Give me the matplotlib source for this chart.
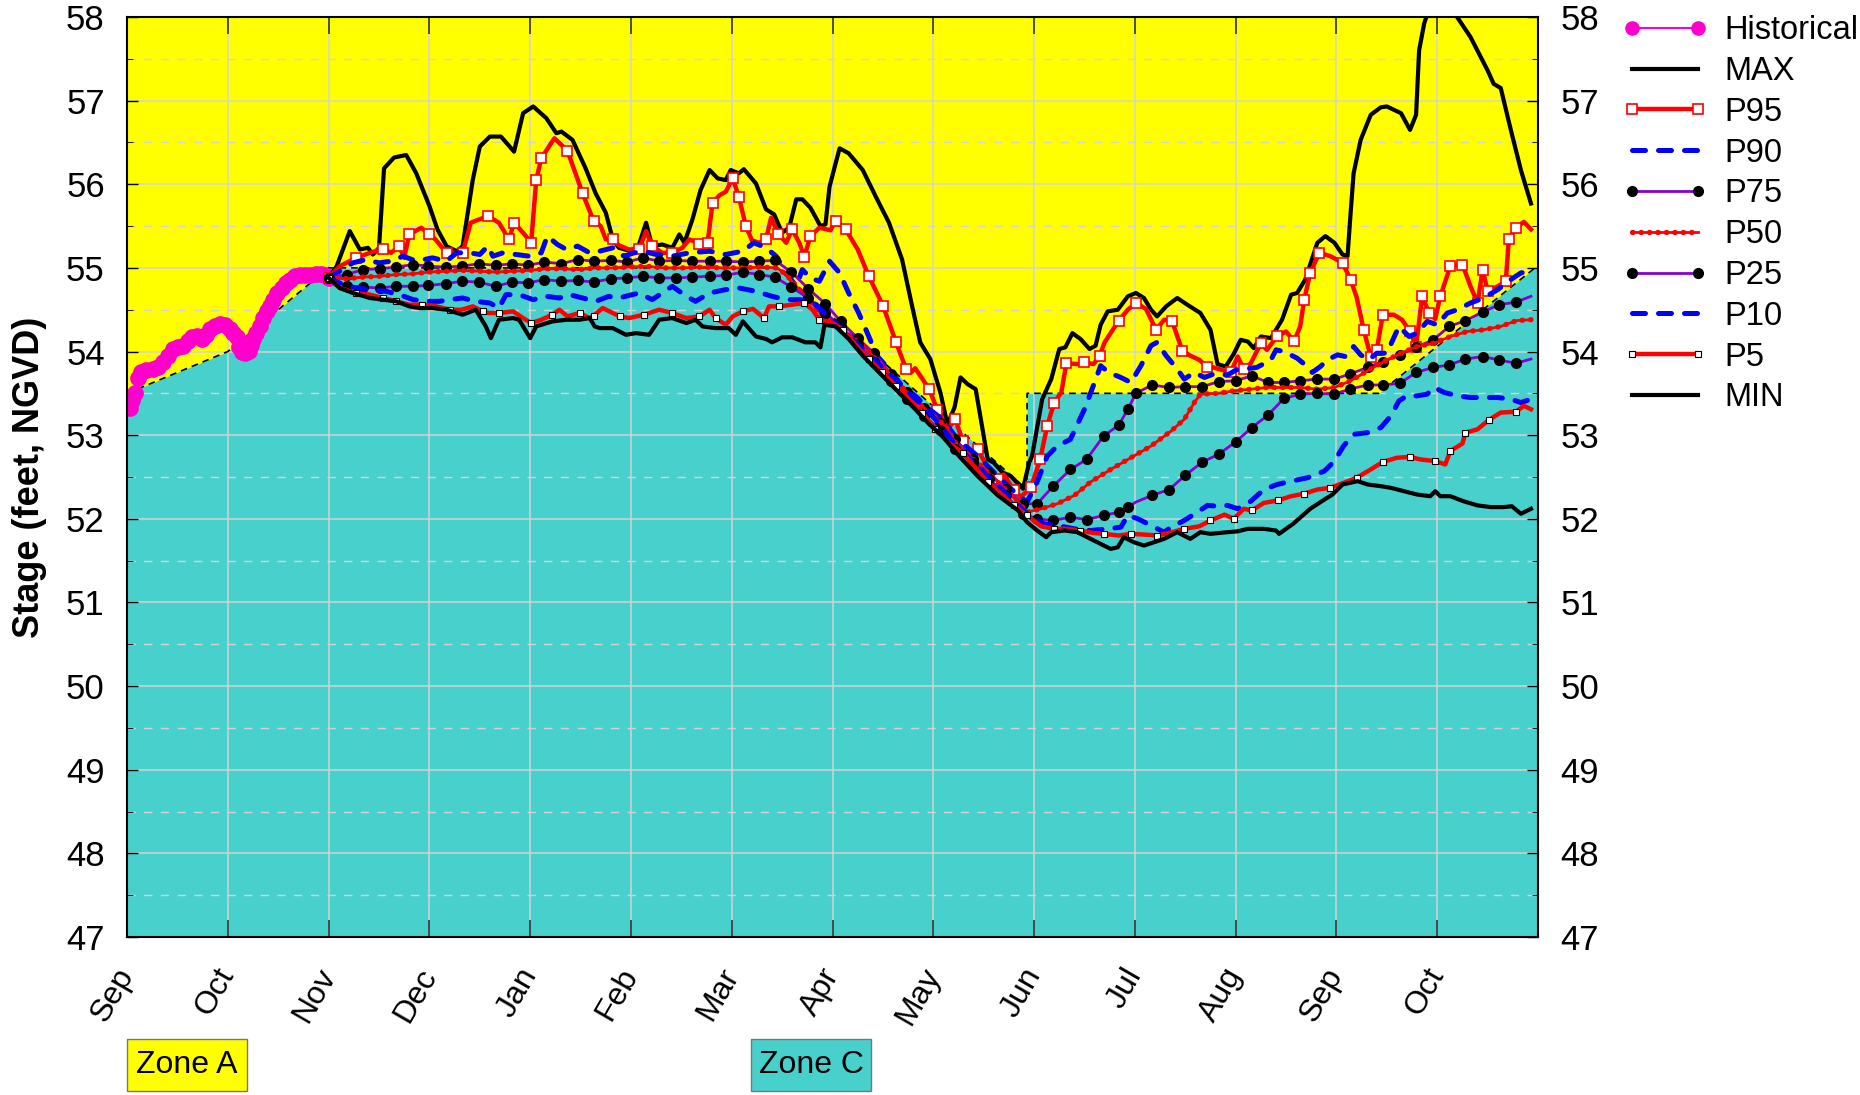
import matplotlib
matplotlib.use("Agg")
import matplotlib.pyplot as plt
from matplotlib.lines import Line2D
from matplotlib.patches import Rectangle
from matplotlib.ticker import MultipleLocator
from matplotlib.legend_handler import HandlerTuple

plt.rcParams["font.family"] = ["Liberation Sans", "DejaVu Sans"]

# x is in months counted from 1 Sep (0 = Sep, 14 = end of the following Oct)
months = ["Sep", "Oct", "Nov", "Dec", "Jan", "Feb", "Mar", "Apr", "May",
          "Jun", "Jul", "Aug", "Sep", "Oct"]

# zone A / zone C boundary
zone_x = [0.0, 1.0, 1.85, 2.0, 2.0, 6.45, 8.93, 8.93, 12.42, 14.0]
zone_y = [53.5, 54.0, 54.85, 54.88, 55.0, 55.0, 52.35, 53.5, 53.5, 55.03]

hist_x = [0.0, 0.03, 0.05, 0.08, 0.11, 0.14, 0.19, 0.26, 0.31, 0.36, 0.41, 0.46, 0.51, 0.56,
          0.6, 0.64, 0.69, 0.74, 0.78, 0.82, 0.87, 0.92, 0.97, 1.02, 1.05, 1.09, 1.11, 1.14,
          1.17, 1.21, 1.23, 1.25, 1.28, 1.32, 1.35, 1.39, 1.42, 1.45, 1.49, 1.54, 1.58, 1.62,
          1.67, 1.72, 1.77, 1.82, 1.87, 1.92, 1.96, 2.0]
hist_y = [53.35, 53.33, 53.42, 53.51, 53.68, 53.75, 53.78, 53.79, 53.82, 53.87, 53.95, 54.03,
          54.06, 54.07, 54.12, 54.17, 54.18, 54.15, 54.2, 54.27, 54.31, 54.33, 54.32, 54.27,
          54.22, 54.17, 54.05, 53.99, 53.98, 54.01, 54.08, 54.15, 54.22, 54.31, 54.4, 54.48,
          54.55, 54.62, 54.7, 54.76, 54.82, 54.86, 54.9, 54.92, 54.92, 54.92, 54.93, 54.93,
          54.92, 54.88]

max_x = [2.0, 2.08, 2.21, 2.31, 2.39, 2.44, 2.5, 2.55, 2.65, 2.77, 2.87, 3.0, 3.08, 3.17, 3.27,
         3.33, 3.43, 3.5, 3.6, 3.71, 3.84, 3.93, 4.03, 4.16, 4.26, 4.31, 4.42, 4.55, 4.65, 4.75,
         4.82, 4.88, 5.0, 5.08, 5.15, 5.21, 5.31, 5.41, 5.48, 5.53, 5.61, 5.69, 5.78, 5.86, 5.94,
         5.99, 6.07, 6.12, 6.24, 6.34, 6.42, 6.5, 6.57, 6.64, 6.7, 6.78, 6.88, 6.93, 6.97, 7.07,
         7.16, 7.3, 7.43, 7.56, 7.69, 7.79, 7.87, 7.97, 8.07, 8.14, 8.21, 8.27, 8.34, 8.42, 8.54,
         8.6, 8.69, 8.77, 8.84, 8.89, 8.95, 8.98, 9.08, 9.17, 9.25, 9.31, 9.38, 9.46, 9.55, 9.61,
         9.66, 9.73, 9.83, 9.93, 10.01, 10.09, 10.16, 10.22, 10.31, 10.42, 10.52, 10.65, 10.75,
         10.82, 10.9, 10.98, 11.05, 11.12, 11.18, 11.25, 11.35, 11.46, 11.55, 11.61, 11.69, 11.81,
         11.89, 11.98, 12.06, 12.11, 12.14, 12.17, 12.24, 12.34, 12.44, 12.5, 12.64, 12.73, 12.79,
         12.82, 12.87, 12.9, 13.03, 13.18, 13.33, 13.5, 13.56, 13.63, 13.73, 13.83, 13.93]
max_y = [54.88, 55.02, 55.44, 55.22, 55.24, 55.16, 55.24, 56.19, 56.32, 56.35, 56.13, 55.74, 55.46,
         55.26, 55.2, 55.26, 56.05, 56.45, 56.57, 56.57, 56.39, 56.85, 56.93, 56.79, 56.61, 56.63,
         56.53, 56.19, 55.89, 55.66, 55.34, 55.24, 55.2, 55.28, 55.54, 55.26, 55.28, 55.24, 55.4,
         55.3, 55.58, 55.93, 56.17, 56.07, 56.05, 56.17, 56.13, 56.18, 56.01, 55.7, 55.64, 55.42,
         55.48, 55.82, 55.82, 55.72, 55.5, 55.52, 55.97, 56.43, 56.37, 56.17, 55.85, 55.54, 55.1,
         54.54, 54.11, 53.91, 53.51, 53.13, 53.33, 53.69, 53.61, 53.55, 52.71, 52.67, 52.55, 52.51,
         52.42, 52.36, 52.67, 52.75, 53.43, 53.67, 54.03, 54.05, 54.22, 54.15, 54.03, 54.07, 54.32,
         54.48, 54.5, 54.66, 54.7, 54.64, 54.5, 54.42, 54.54, 54.64, 54.56, 54.46, 54.26, 53.85,
         53.82, 53.97, 54.14, 54.12, 54.04, 54.18, 54.16, 54.38, 54.68, 54.7, 54.86, 55.3, 55.38,
         55.3, 55.16, 55.14, 55.65, 56.13, 56.53, 56.83, 56.92, 56.93, 56.85, 56.65, 56.83, 57.6,
         57.92, 58.03, 58.3, 58.03, 57.76, 57.36, 57.2, 57.15, 56.65, 56.17, 55.77]

p95_x = [2.0, 2.11, 2.27, 2.41, 2.54, 2.62, 2.7, 2.75, 2.8, 2.92, 3.0, 3.06, 3.17, 3.25, 3.33,
         3.41, 3.58, 3.69, 3.79, 3.84, 3.93, 4.01, 4.06, 4.11, 4.24, 4.37, 4.52, 4.63, 4.7, 4.75,
         4.82, 4.88, 4.98, 5.08, 5.15, 5.21, 5.31, 5.41, 5.51, 5.58, 5.68, 5.76, 5.81, 5.88, 5.94,
         6.01, 6.07, 6.14, 6.2, 6.27, 6.34, 6.39, 6.46, 6.54, 6.6, 6.67, 6.72, 6.78, 6.87, 6.98,
         7.03, 7.13, 7.25, 7.36, 7.5, 7.63, 7.73, 7.78, 7.82, 7.96, 8.04, 8.14, 8.22, 8.29, 8.37,
         8.44, 8.54, 8.64, 8.7, 8.8, 8.87, 8.97, 9.06, 9.13, 9.2, 9.27, 9.32, 9.43, 9.5, 9.59,
         9.65, 9.7, 9.84, 9.93, 10.01, 10.11, 10.21, 10.29, 10.37, 10.47, 10.55, 10.64, 10.72,
         10.78, 10.89, 10.95, 11.02, 11.08, 11.15, 11.25, 11.31, 11.41, 11.5, 11.58, 11.64, 11.68,
         11.74, 11.83, 11.94, 12.06, 12.14, 12.2, 12.27, 12.34, 12.4, 12.46, 12.57, 12.65, 12.73,
         12.79, 12.85, 12.92, 12.98, 13.03, 13.13, 13.25, 13.33, 13.4, 13.45, 13.5, 13.6, 13.68,
         13.71, 13.78, 13.86, 13.93]
p95_y = [54.88, 55.02, 55.12, 55.18, 55.23, 55.18, 55.26, 55.12, 55.4, 55.48, 55.4, 55.34, 55.18,
         55.18, 55.18, 55.54, 55.62, 55.54, 55.34, 55.54, 55.42, 55.3, 56.05, 56.31, 56.55, 56.4,
         55.89, 55.56, 55.5, 55.34, 55.34, 55.27, 55.22, 55.22, 55.44, 55.26, 55.18, 55.18, 55.24,
         55.34, 55.29, 55.3, 55.78, 55.87, 55.91, 56.07, 55.85, 55.5, 55.33, 55.3, 55.34, 55.6,
         55.41, 55.3, 55.46, 55.3, 55.13, 55.38, 55.48, 55.45, 55.56, 55.46, 55.22, 54.9, 54.55,
         54.11, 53.79, 53.75, 53.8, 53.55, 53.3, 53.07, 53.19, 52.93, 52.75, 52.83, 52.61, 52.48,
         52.53, 52.34, 52.26, 52.38, 52.71, 53.11, 53.39, 53.51, 53.86, 53.85, 53.87, 53.85, 53.95,
         54.11, 54.37, 54.5, 54.58, 54.51, 54.26, 54.38, 54.36, 54.01, 53.95, 53.9, 53.81, 53.81,
         53.77, 53.75, 53.94, 53.79, 53.86, 54.1, 54.02, 54.18, 54.24, 54.12, 54.3, 54.62, 54.94,
         55.18, 55.14, 55.06, 54.86, 54.65, 54.26, 53.94, 54.02, 54.44, 54.44, 54.38, 54.24, 54.06,
         54.66, 54.46, 54.39, 54.66, 55.02, 55.04, 54.78, 54.58, 54.98, 54.72, 54.78, 54.84, 55.34,
         55.48, 55.55, 55.46]

p90_x = [2.0, 2.11, 2.24, 2.37, 2.5, 2.62, 2.74, 2.87, 3.03, 3.17, 3.27, 3.4, 3.5, 3.58, 3.63,
         3.73, 3.86, 3.99, 4.11, 4.17, 4.27, 4.36, 4.47, 4.59, 4.69, 4.82, 4.93, 5.03, 5.12, 5.25,
         5.41, 5.58, 5.78, 5.94, 6.11, 6.22, 6.34, 6.44, 6.54, 6.64, 6.7, 6.78, 6.87, 6.97, 7.07,
         7.16, 7.26, 7.36, 7.44, 7.56, 7.69, 7.82, 7.96, 8.09, 8.24, 8.44, 8.64, 8.84, 8.93, 9.03,
         9.13, 9.23, 9.36, 9.5, 9.6, 9.66, 9.74, 9.86, 9.96, 10.06, 10.16, 10.22, 10.31, 10.42,
         10.49, 10.59, 10.69, 10.78, 10.92, 11.02, 11.08, 11.21, 11.35, 11.4, 11.48, 11.61, 11.71,
         11.76, 11.84, 11.91, 12.01, 12.09, 12.17, 12.24, 12.32, 12.4, 12.5, 12.62, 12.72, 12.8,
         12.9, 13.0, 13.1, 13.2, 13.33, 13.46, 13.6, 13.73, 13.83, 13.93]
p90_y = [54.88, 54.96, 55.06, 55.1, 55.06, 55.08, 55.14, 55.08, 55.12, 55.08, 55.18, 55.18, 55.16,
         55.26, 55.14, 55.18, 55.16, 55.14, 55.18, 55.38, 55.28, 55.22, 55.26, 55.18, 55.2, 55.24,
         55.14, 55.18, 55.2, 55.16, 55.14, 55.18, 55.2, 55.16, 55.2, 55.3, 55.24, 55.14, 54.94,
         54.78, 54.98, 54.88, 54.84, 55.08, 54.94, 54.7, 54.46, 54.18, 53.95, 53.79, 53.59, 53.47,
         53.31, 53.19, 52.95, 52.75, 52.51, 52.28, 52.2, 52.44, 52.75, 52.87, 52.95, 53.31, 53.63,
         53.83, 53.75, 53.69, 53.63, 53.83, 54.07, 54.11, 53.95, 53.79, 53.67, 53.75, 53.69, 53.73,
         53.72, 53.79, 53.79, 53.81, 53.9, 54.02, 54.0, 53.92, 53.82, 53.75, 53.82, 53.9, 53.96,
         53.94, 54.06, 53.96, 53.9, 53.98, 53.98, 54.3, 54.18, 54.22, 54.36, 54.32, 54.46, 54.5,
         54.58, 54.64, 54.74, 54.86, 54.94, 54.96]

p75_x = [2.0, 2.18, 2.34, 2.51, 2.67, 2.84, 2.99, 3.16, 3.32, 3.49, 3.66, 3.82, 3.98, 4.14, 4.31,
         4.47, 4.63, 4.8, 4.96, 5.12, 5.28, 5.45, 5.61, 5.78, 5.94, 6.11, 6.27, 6.43, 6.59, 6.76,
         6.93, 7.08, 7.25, 7.41, 7.58, 7.74, 7.91, 8.07, 8.22, 8.39, 8.55, 8.72, 8.89, 9.03, 9.19,
         9.36, 9.52, 9.69, 9.84, 9.93, 10.01, 10.17, 10.34, 10.5, 10.67, 10.83, 11.0, 11.16, 11.32,
         11.48, 11.64, 11.81, 11.98, 12.13, 12.31, 12.46, 12.63, 12.79, 12.96, 13.12, 13.28, 13.45,
         13.61, 13.78, 13.93]
p75_y = [54.88, 54.92, 54.98, 54.99, 55.01, 55.04, 55.02, 55.01, 55.02, 55.05, 55.03, 55.05, 55.03,
         55.07, 55.05, 55.1, 55.08, 55.09, 55.07, 55.12, 55.08, 55.09, 55.08, 55.08, 55.08, 55.07,
         55.08, 55.09, 54.95, 54.75, 54.57, 54.36, 54.16, 53.98, 53.73, 53.52, 53.33, 53.15, 52.95,
         52.72, 52.55, 52.36, 52.18, 52.18, 52.39, 52.59, 52.71, 52.99, 53.12, 53.31, 53.5, 53.6,
         53.57, 53.58, 53.58, 53.64, 53.65, 53.71, 53.63, 53.63, 53.65, 53.67, 53.67, 53.73, 53.81,
         53.88, 53.96, 54.05, 54.14, 54.3, 54.37, 54.47, 54.56, 54.59, 54.66]

p50_x = [2.0, 2.18, 2.34, 2.51, 2.67, 2.84, 3.0, 3.17, 3.33, 3.5, 3.66, 3.83, 3.99, 4.16, 4.32,
         4.49, 4.65, 4.82, 4.98, 5.15, 5.31, 5.51, 5.71, 5.91, 6.11, 6.3, 6.45, 6.54, 6.64, 6.77,
         6.9, 7.03, 7.16, 7.3, 7.46, 7.63, 7.79, 7.96, 8.12, 8.24, 8.44, 8.64, 8.84, 8.93, 9.07,
         9.23, 9.4, 9.56, 9.76, 9.96, 10.16, 10.36, 10.49, 10.59, 10.65, 10.82, 10.98, 11.15, 11.31,
         11.48, 11.64, 11.81, 11.98, 12.14, 12.31, 12.47, 12.64, 12.8, 12.97, 13.13, 13.3, 13.46,
         13.63, 13.79, 13.93]
p50_y = [54.88, 54.87, 54.89, 54.9, 54.92, 54.93, 54.95, 54.96, 54.97, 54.96, 54.95, 54.96, 54.97,
         54.99, 54.99, 54.98, 55.0, 55.0, 55.01, 55.02, 55.0, 55.0, 55.01, 55.0, 55.0, 55.01, 55.0,
         54.92, 54.78, 54.62, 54.42, 54.34, 54.2, 54.07, 53.87, 53.65, 53.45, 53.27, 53.11, 52.87,
         52.67, 52.44, 52.2, 52.08, 52.12, 52.18, 52.28, 52.44, 52.59, 52.73, 52.87, 53.05, 53.19,
         53.39, 53.49, 53.5, 53.53, 53.55, 53.57, 53.57, 53.57, 53.55, 53.57, 53.65, 53.77, 53.88,
         53.98, 54.06, 54.1, 54.18, 54.24, 54.26, 54.3, 54.37, 54.38]

p25_x = p75_x
p25_y = [54.88, 54.78, 54.77, 54.76, 54.78, 54.78, 54.79, 54.81, 54.84, 54.83, 54.78, 54.83, 54.82,
         54.86, 54.84, 54.85, 54.83, 54.87, 54.88, 54.9, 54.88, 54.88, 54.89, 54.9, 54.91, 54.95,
         54.92, 54.89, 54.77, 54.64, 54.46, 54.3, 54.09, 53.87, 53.65, 53.43, 53.23, 53.06, 52.83,
         52.67, 52.48, 52.28, 52.06, 52.0, 51.98, 52.02, 51.99, 52.04, 52.08, 52.14, 52.2, 52.28,
         52.35, 52.52, 52.68, 52.77, 52.92, 53.09, 53.24, 53.44, 53.49, 53.5, 53.49, 53.55, 53.6,
         53.6, 53.62, 53.75, 53.81, 53.84, 53.91, 53.94, 53.9, 53.86, 53.91]

p10_x = [2.0, 2.11, 2.27, 2.41, 2.57, 2.7, 2.84, 2.97, 3.1, 3.2, 3.33, 3.46, 3.6, 3.69, 3.76,
         3.89, 4.03, 4.16, 4.29, 4.39, 4.52, 4.65, 4.78, 4.88, 4.98, 5.08, 5.21, 5.31, 5.41, 5.55,
         5.64, 5.78, 5.94, 6.07, 6.24, 6.4, 6.54, 6.67, 6.8, 6.9, 7.03, 7.16, 7.3, 7.46, 7.63,
         7.79, 7.96, 8.09, 8.24, 8.44, 8.64, 8.84, 8.97, 9.1, 9.23, 9.4, 9.56, 9.73, 9.86, 9.93,
         10.03, 10.16, 10.29, 10.36, 10.49, 10.62, 10.72, 10.82, 10.92, 11.02, 11.15, 11.28, 11.41,
         11.55, 11.71, 11.88, 11.98, 12.07, 12.17, 12.31, 12.44, 12.54, 12.62, 12.7, 12.8, 12.9,
         12.97, 13.07, 13.2, 13.33, 13.46, 13.6, 13.73, 13.83, 13.93]
p10_y = [54.88, 54.82, 54.76, 54.74, 54.72, 54.68, 54.62, 54.6, 54.6, 54.62, 54.64, 54.6, 54.58,
         54.52, 54.68, 54.68, 54.62, 54.66, 54.64, 54.68, 54.64, 54.6, 54.66, 54.64, 54.67, 54.7,
         54.62, 54.7, 54.78, 54.66, 54.6, 54.7, 54.74, 54.76, 54.72, 54.66, 54.62, 54.62, 54.6,
         54.48, 54.34, 54.18, 54.03, 53.85, 53.65, 53.47, 53.27, 53.09, 52.85, 52.63, 52.4, 52.16,
         52.02, 51.94, 51.92, 51.88, 51.86, 51.88, 51.9, 52.04, 52.0, 51.92, 51.84, 51.9, 51.98,
         52.08, 52.16, 52.15, 52.16, 52.12, 52.21, 52.35, 52.41, 52.45, 52.49, 52.57, 52.69, 52.87,
         53.01, 53.03, 53.09, 53.23, 53.41, 53.47, 53.47, 53.49, 53.57, 53.51, 53.47, 53.45, 53.45,
         53.45, 53.43, 53.39, 53.43]

p5_x = [2.0, 2.11, 2.27, 2.41, 2.54, 2.67, 2.8, 2.93, 3.07, 3.2, 3.32, 3.43, 3.53, 3.59, 3.69,
        3.83, 3.93, 4.01, 4.11, 4.22, 4.29, 4.37, 4.49, 4.59, 4.63, 4.72, 4.82, 4.89, 4.98, 5.13,
        5.28, 5.41, 5.55, 5.68, 5.78, 5.84, 5.94, 6.01, 6.11, 6.21, 6.32, 6.37, 6.47, 6.6, 6.72,
        6.8, 6.87, 6.99, 7.1, 7.25, 7.36, 7.49, 7.63, 7.76, 7.89, 8.02, 8.15, 8.29, 8.54, 8.8,
        8.93, 9.07, 9.2, 9.32, 9.46, 9.59, 9.69, 9.84, 9.96, 10.11, 10.22, 10.37, 10.49, 10.64,
        10.75, 10.89, 10.98, 11.08, 11.16, 11.28, 11.42, 11.55, 11.68, 11.81, 11.94, 12.07, 12.2,
        12.34, 12.46, 12.6, 12.73, 12.83, 12.98, 13.08, 13.13, 13.25, 13.28, 13.4, 13.51, 13.63,
        13.78, 13.86, 13.93]
p5_y = [54.88, 54.76, 54.7, 54.68, 54.64, 54.6, 54.56, 54.56, 54.54, 54.5, 54.5, 54.54, 54.48,
        54.46, 54.46, 54.48, 54.4, 54.34, 54.38, 54.44, 54.5, 54.42, 54.46, 54.4, 54.43, 54.52,
        54.46, 54.42, 54.4, 54.44, 54.5, 54.46, 54.4, 54.42, 54.5, 54.4, 54.32, 54.42, 54.48, 54.51,
        54.4, 54.54, 54.54, 54.56, 54.58, 54.5, 54.38, 54.35, 54.26, 54.05, 53.91, 53.75, 53.59,
        53.43, 53.27, 53.07, 52.91, 52.79, 52.44, 52.16, 52.04, 51.91, 51.88, 51.88, 51.86, 51.83,
        51.82, 51.8, 51.82, 51.81, 51.8, 51.84, 51.88, 51.91, 51.98, 52.05, 52.0, 52.12, 52.1,
        52.19, 52.22, 52.27, 52.3, 52.35, 52.37, 52.43, 52.49, 52.59, 52.68, 52.73, 52.74, 52.71,
        52.69, 52.65, 52.81, 52.9, 53.03, 53.07, 53.18, 53.27, 53.28, 53.35, 53.31]

min_x = [2.0, 2.11, 2.24, 2.41, 2.54, 2.67, 2.8, 2.9, 3.03, 3.17, 3.33, 3.46, 3.56, 3.61, 3.69,
         3.83, 3.89, 4.0, 4.06, 4.22, 4.36, 4.49, 4.59, 4.64, 4.69, 4.82, 4.95, 5.05, 5.18, 5.28,
         5.41, 5.55, 5.64, 5.71, 5.84, 5.97, 6.04, 6.11, 6.24, 6.34, 6.4, 6.5, 6.6, 6.73, 6.83,
         6.88, 6.92, 7.03, 7.16, 7.3, 7.43, 7.56, 7.69, 7.82, 7.96, 8.09, 8.24, 8.44, 8.64, 8.84,
         8.93, 9.03, 9.12, 9.17, 9.3, 9.43, 9.56, 9.66, 9.76, 9.83, 9.89, 9.99, 10.09, 10.19, 10.29,
         10.42, 10.55, 10.65, 10.75, 10.92, 11.02, 11.12, 11.28, 11.4, 11.43, 11.57, 11.74, 11.88,
         11.96, 12.06, 12.21, 12.31, 12.44, 12.54, 12.67, 12.8, 12.93, 12.98, 13.03, 13.13, 13.26,
         13.4, 13.53, 13.66, 13.74, 13.83, 13.93]
min_y = [54.88, 54.76, 54.7, 54.64, 54.62, 54.6, 54.54, 54.52, 54.52, 54.5, 54.44, 54.5, 54.3,
         54.16, 54.38, 54.4, 54.38, 54.16, 54.3, 54.36, 54.38, 54.38, 54.4, 54.3, 54.28, 54.28,
         54.2, 54.22, 54.2, 54.38, 54.4, 54.34, 54.38, 54.3, 54.28, 54.28, 54.2, 54.36, 54.18,
         54.15, 54.11, 54.17, 54.17, 54.11, 54.11, 54.05, 54.32, 54.3, 54.15, 53.95, 53.79, 53.63,
         53.47, 53.31, 53.13, 52.99, 52.77, 52.51, 52.28, 52.1, 51.96, 51.86, 51.78, 51.84, 51.86,
         51.84, 51.76, 51.7, 51.64, 51.66, 51.78, 51.72, 51.68, 51.72, 51.76, 51.84, 51.76, 51.84,
         51.82, 51.84, 51.85, 51.88, 51.88, 51.86, 51.82, 51.94, 52.12, 52.23, 52.29, 52.41, 52.45,
         52.41, 52.39, 52.37, 52.33, 52.29, 52.27, 52.33, 52.27, 52.27, 52.21, 52.16, 52.14, 52.14,
         52.15, 52.06, 52.12]

YELLOW = "#FFFF00"
TEAL = "#48D1CC"
MAGENTA = "#FF00CC"
PURPLE = "#8800CC"
DASH = (0, (2.6, 2.6))
DOTS = (0, (0.1, 1.5))

fig = plt.figure(figsize=(18.6, 10.95), dpi=100)
ax = fig.add_axes([0.0683, 0.1443, 0.7586, 0.8402])
ax.set_facecolor(YELLOW)

ax.fill_between(zone_x, zone_y, 47, color=TEAL, lw=0, zorder=1)
ax.plot(zone_x, zone_y, color="black", lw=1.2, ls=(0, (4, 3)), zorder=1.8)

ax.plot(hist_x, hist_y, color=MAGENTA, lw=1.5, marker="o", ms=11, mec=MAGENTA, zorder=2)
ax.plot(max_x, max_y, color="black", lw=3, zorder=2.1)
ax.plot(p95_x, p95_y, color="red", lw=3.2, marker="s", ms=7, mfc="white", mec="red",
        mew=1.2, markevery=0.017, zorder=2.2)
ax.plot(p90_x, p90_y, color="blue", lw=3.6, ls=DASH, dash_capstyle="round", zorder=2.3)
ax.plot(p75_x, p75_y, color=PURPLE, lw=2, marker="o", ms=7, mfc="black", mec="black",
        markevery=0.0098, zorder=2.4)
ax.plot(p50_x, p50_y, color="red", lw=2, zorder=2.5)
ax.plot(p50_x, p50_y, color="red", lw=3.8, ls=DOTS, dash_capstyle="round", zorder=2.5)
ax.plot(p25_x, p25_y, color=PURPLE, lw=2, marker="o", ms=7, mfc="black", mec="black",
        markevery=0.0098, zorder=2.6)
ax.plot(p10_x, p10_y, color="blue", lw=3.6, ls=DASH, dash_capstyle="round", zorder=2.7)
ax.plot(p5_x, p5_y, color="red", lw=3.2, marker="s", ms=4, mfc="white", mec="black",
        mew=0.8, markevery=0.0157, zorder=2.8)
ax.plot(min_x, min_y, color="black", lw=3, zorder=2.9)

ax.set_xlim(0, 14)
ax.set_ylim(47, 58)
ax.set_xticks(range(14))
ax.set_xticklabels(months, rotation=60, ha="right", va="center", rotation_mode="anchor")
ax.set_yticks(range(47, 59))
ax.yaxis.set_minor_locator(MultipleLocator(0.5))

ax.set_axisbelow("line")
ax.grid(which="major", color="#D3D3D3", lw=1.1)
ax.grid(which="minor", axis="y", color="#D3D3D3", lw=1.0, ls=(0, (6, 6)))

ax.tick_params(axis="x", which="major", direction="in", length=12, width=1.2,
               color="#333333", top=True, labelsize=23, pad=24)
ax.tick_params(axis="y", which="major", direction="in", length=8, width=1.0,
               right=True, labelright=True, labelsize=25, pad=16)
ax.tick_params(axis="y", which="minor", direction="in", length=4, right=True)
for sp in ax.spines.values():
    sp.set_linewidth(1.5)

ax.set_ylabel("Stage (feet, NGVD)", fontsize=26, fontweight="bold", labelpad=14)

# legend
h_hist = Line2D([], [], color=MAGENTA, lw=1.5, marker="o", ms=9.5, mec=MAGENTA)
h_max = Line2D([], [], color="black", lw=3)
h_p95 = Line2D([], [], color="red", lw=3.2, marker="s", ms=7, mfc="white", mec="red", mew=1.2)
h_p90 = Line2D([], [], color="blue", lw=3.6, ls=DASH, dash_capstyle="round")
h_p75 = Line2D([], [], color=PURPLE, lw=2, marker="o", ms=7, mfc="black", mec="black")
h_p50 = (Line2D([], [], color="red", lw=2),
         Line2D([], [], color="red", lw=3.8, ls=DOTS, dash_capstyle="round"))
h_p25 = Line2D([], [], color=PURPLE, lw=2, marker="o", ms=7, mfc="black", mec="black")
h_p10 = Line2D([], [], color="blue", lw=3.6, ls=DASH, dash_capstyle="round")
h_p5 = Line2D([], [], color="red", lw=3.2, marker="s", ms=4, mfc="white", mec="black", mew=0.8)
h_min = Line2D([], [], color="black", lw=3)
handles = [h_hist, h_max, h_p95, h_p90, h_p75, h_p50, h_p25, h_p10, h_p5, h_min]
labels = ["Historical", "MAX", "P95", "P90", "P75", "P50", "P25", "P10", "P5", "MIN"]
fig.legend(handles, labels, loc="upper left", bbox_to_anchor=(0.872, 0.986),
           frameon=False, fontsize=23.5, handlelength=2.64, handletextpad=0.5,
           labelspacing=0.3, borderpad=0, borderaxespad=0, numpoints=2,
           handler_map={tuple: HandlerTuple(ndivide=1, pad=0)})

# zone labels under the chart
for x0, text, color in [(0.0683, "Zone A", YELLOW), (0.4038, "Zone C", TEAL)]:
    fig.add_artist(Rectangle((x0, 0.0037), 0.0645, 0.0475, transform=fig.transFigure,
                             facecolor=color, edgecolor="#777777", lw=1))
    fig.text(x0 + 0.0645 / 2, 0.0037 + 0.0475 / 2, text, ha="center", va="center",
             fontsize=23)

fig.savefig("out.png", dpi=100)
